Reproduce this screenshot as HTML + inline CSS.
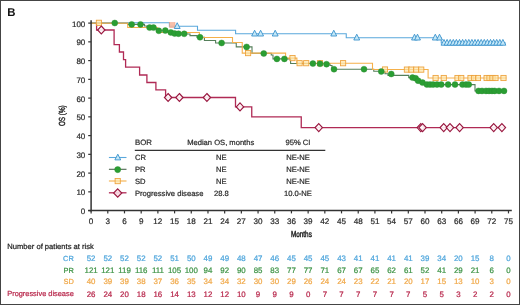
<!DOCTYPE html><html><head><meta charset="utf-8"><style>html,body{margin:0;padding:0;background:#fff;}svg{display:block;will-change:transform;font-family:"Liberation Sans",sans-serif;}</style></head><body>
<svg width="520" height="305" viewBox="0 0 520 305"  text-rendering="geometricPrecision">
<rect x="0" y="0" width="520" height="305" fill="#fff"/>
<text x="7.2" y="16.2" font-size="11.4" font-weight="bold" fill="#111">B</text>
<path d="M91.10,23.10 L96.60,23.10 L96.60,30.00 L114.10,30.00 L114.10,44.60 L119.40,44.60 L119.40,52.00 L123.50,52.00 L123.50,59.60 L125.60,59.60 L125.60,67.10 L139.60,67.10 L139.60,75.00 L146.90,75.00 L146.90,82.50 L155.90,82.50 L155.90,89.90 L165.60,89.90 L165.60,97.50 L235.50,97.50 L235.50,106.90 L251.75,106.90 L251.75,116.90 L301.25,116.90 L301.25,127.60 L505.00,127.60" fill="none" stroke="#b02a55" stroke-width="1.3" stroke-linejoin="miter"/>
<path d="M91.10,23.10 L127.70,23.10 L127.70,24.40 L144.50,24.40 L144.50,26.00 L147.00,26.00 L147.00,27.60 L156.50,27.60 L156.50,29.20 L157.50,29.20 L157.50,30.80 L168.00,30.80 L168.00,32.40 L172.00,32.40 L172.00,34.00 L190.00,34.00 L190.00,35.60 L197.00,35.60 L197.00,37.20 L204.40,37.20 L204.40,40.50 L215.60,40.50 L215.60,43.00 L236.25,43.00 L236.25,46.90 L252.00,46.90 L252.00,53.30 L271.25,53.30 L271.25,55.00 L273.00,55.00 L273.00,58.90 L290.60,58.90 L290.60,63.50 L330.00,63.50 L330.00,65.50 L332.00,65.50 L332.00,69.20 L373.75,69.20 L373.75,71.30 L385.00,71.30 L385.00,73.80 L388.00,73.80 L388.00,75.40 L408.75,75.40 L408.75,77.60 L415.00,77.60 L415.00,80.50 L419.00,80.50 L419.00,82.60 L424.00,82.60 L424.00,84.60 L475.00,84.60 L475.00,90.90 L506.00,90.90" fill="none" stroke="#557f5a" stroke-width="1.1" stroke-linejoin="miter"/>
<path d="M91.10,22.70 L169.40,22.70 L169.40,26.30 L197.50,26.30 L197.50,30.20 L235.60,30.20 L235.60,33.80 L346.25,33.80 L346.25,37.80 L441.25,37.80 L441.25,43.00 L506.00,43.00" fill="none" stroke="#5aa8dc" stroke-width="1.1" stroke-linejoin="miter"/>
<path d="M91.10,23.10 L127.70,23.10 L127.70,27.50 L157.30,27.50 L157.30,32.50 L199.40,32.50 L199.40,37.50 L232.50,37.50 L232.50,42.50 L242.25,42.50 L242.25,53.10 L285.60,53.10 L285.60,58.10 L296.90,58.10 L296.90,63.20 L372.50,63.20 L372.50,69.50 L428.10,69.50 L428.10,78.00 L506.30,78.00" fill="none" stroke="#f5b04a" stroke-width="1.1" stroke-linejoin="miter"/>
<rect x="169.6" y="22.6" width="5.4" height="5.0" fill="#f6b49a" fill-opacity="0.85" stroke="#f0a080" stroke-width="0.5"/>
<rect x="96.30" y="20.20" width="5.2" height="5.2" fill="#fde6a8" fill-opacity="0.7" stroke="#eda03a" stroke-width="0.85"/>
<rect x="245.50" y="50.50" width="5.2" height="5.2" fill="#fde6a8" fill-opacity="0.7" stroke="#eda03a" stroke-width="0.85"/>
<rect x="289.90" y="55.50" width="5.2" height="5.2" fill="#fde6a8" fill-opacity="0.7" stroke="#eda03a" stroke-width="0.85"/>
<rect x="297.00" y="60.60" width="5.2" height="5.2" fill="#fde6a8" fill-opacity="0.7" stroke="#eda03a" stroke-width="0.85"/>
<rect x="303.60" y="60.60" width="5.2" height="5.2" fill="#fde6a8" fill-opacity="0.7" stroke="#eda03a" stroke-width="0.85"/>
<rect x="317.40" y="60.60" width="5.2" height="5.2" fill="#fde6a8" fill-opacity="0.7" stroke="#eda03a" stroke-width="0.85"/>
<rect x="340.50" y="60.60" width="5.2" height="5.2" fill="#fde6a8" fill-opacity="0.7" stroke="#eda03a" stroke-width="0.85"/>
<rect x="382.40" y="66.90" width="5.2" height="5.2" fill="#fde6a8" fill-opacity="0.7" stroke="#eda03a" stroke-width="0.85"/>
<rect x="404.30" y="67.00" width="5.2" height="5.2" fill="#fde6a8" fill-opacity="0.7" stroke="#eda03a" stroke-width="0.85"/>
<rect x="408.65" y="67.00" width="5.2" height="5.2" fill="#fde6a8" fill-opacity="0.7" stroke="#eda03a" stroke-width="0.85"/>
<rect x="413.65" y="67.00" width="5.2" height="5.2" fill="#fde6a8" fill-opacity="0.7" stroke="#eda03a" stroke-width="0.85"/>
<rect x="418.65" y="67.00" width="5.2" height="5.2" fill="#fde6a8" fill-opacity="0.7" stroke="#eda03a" stroke-width="0.85"/>
<rect x="433.00" y="75.40" width="5.2" height="5.2" fill="#fde6a8" fill-opacity="0.7" stroke="#eda03a" stroke-width="0.85"/>
<rect x="441.15" y="75.40" width="5.2" height="5.2" fill="#fde6a8" fill-opacity="0.7" stroke="#eda03a" stroke-width="0.85"/>
<rect x="454.90" y="75.40" width="5.2" height="5.2" fill="#fde6a8" fill-opacity="0.7" stroke="#eda03a" stroke-width="0.85"/>
<rect x="458.65" y="75.40" width="5.2" height="5.2" fill="#fde6a8" fill-opacity="0.7" stroke="#eda03a" stroke-width="0.85"/>
<rect x="467.90" y="75.40" width="5.2" height="5.2" fill="#fde6a8" fill-opacity="0.7" stroke="#eda03a" stroke-width="0.85"/>
<rect x="471.40" y="75.40" width="5.2" height="5.2" fill="#fde6a8" fill-opacity="0.7" stroke="#eda03a" stroke-width="0.85"/>
<rect x="475.40" y="75.40" width="5.2" height="5.2" fill="#fde6a8" fill-opacity="0.7" stroke="#eda03a" stroke-width="0.85"/>
<rect x="484.00" y="75.40" width="5.2" height="5.2" fill="#fde6a8" fill-opacity="0.7" stroke="#eda03a" stroke-width="0.85"/>
<rect x="486.90" y="75.40" width="5.2" height="5.2" fill="#fde6a8" fill-opacity="0.7" stroke="#eda03a" stroke-width="0.85"/>
<rect x="489.90" y="75.40" width="5.2" height="5.2" fill="#fde6a8" fill-opacity="0.7" stroke="#eda03a" stroke-width="0.85"/>
<rect x="492.90" y="75.40" width="5.2" height="5.2" fill="#fde6a8" fill-opacity="0.7" stroke="#eda03a" stroke-width="0.85"/>
<rect x="500.90" y="75.40" width="5.2" height="5.2" fill="#fde6a8" fill-opacity="0.7" stroke="#eda03a" stroke-width="0.85"/>
<path d="M177.20,22.72 L180.15,28.50 L174.25,28.50 Z" fill="#c4e8f8" stroke="#3a92cc" stroke-width="0.9"/>
<path d="M254.60,30.22 L257.55,36.00 L251.65,36.00 Z" fill="#c4e8f8" stroke="#3a92cc" stroke-width="0.9"/>
<path d="M260.60,30.22 L263.55,36.00 L257.65,36.00 Z" fill="#c4e8f8" stroke="#3a92cc" stroke-width="0.9"/>
<path d="M275.20,30.22 L278.15,36.00 L272.25,36.00 Z" fill="#c4e8f8" stroke="#3a92cc" stroke-width="0.9"/>
<path d="M333.75,30.22 L336.70,36.00 L330.80,36.00 Z" fill="#c4e8f8" stroke="#3a92cc" stroke-width="0.9"/>
<path d="M356.75,34.22 L359.70,40.00 L353.80,40.00 Z" fill="#c4e8f8" stroke="#3a92cc" stroke-width="0.9"/>
<path d="M414.50,34.22 L417.45,40.00 L411.55,40.00 Z" fill="#c4e8f8" stroke="#3a92cc" stroke-width="0.9"/>
<path d="M417.50,34.22 L420.45,40.00 L414.55,40.00 Z" fill="#c4e8f8" stroke="#3a92cc" stroke-width="0.9"/>
<path d="M435.30,34.22 L438.25,40.00 L432.35,40.00 Z" fill="#c4e8f8" stroke="#3a92cc" stroke-width="0.9"/>
<path d="M439.50,34.22 L442.45,40.00 L436.55,40.00 Z" fill="#c4e8f8" stroke="#3a92cc" stroke-width="0.9"/>
<path d="M444.00,39.42 L446.95,45.20 L441.05,45.20 Z" fill="#c4e8f8" stroke="#3a92cc" stroke-width="0.9"/>
<path d="M447.10,39.42 L450.05,45.20 L444.15,45.20 Z" fill="#c4e8f8" stroke="#3a92cc" stroke-width="0.9"/>
<path d="M450.20,39.42 L453.15,45.20 L447.25,45.20 Z" fill="#c4e8f8" stroke="#3a92cc" stroke-width="0.9"/>
<path d="M453.30,39.42 L456.25,45.20 L450.35,45.20 Z" fill="#c4e8f8" stroke="#3a92cc" stroke-width="0.9"/>
<path d="M456.40,39.42 L459.35,45.20 L453.45,45.20 Z" fill="#c4e8f8" stroke="#3a92cc" stroke-width="0.9"/>
<path d="M459.50,39.42 L462.45,45.20 L456.55,45.20 Z" fill="#c4e8f8" stroke="#3a92cc" stroke-width="0.9"/>
<path d="M462.60,39.42 L465.55,45.20 L459.65,45.20 Z" fill="#c4e8f8" stroke="#3a92cc" stroke-width="0.9"/>
<path d="M465.70,39.42 L468.65,45.20 L462.75,45.20 Z" fill="#c4e8f8" stroke="#3a92cc" stroke-width="0.9"/>
<path d="M468.80,39.42 L471.75,45.20 L465.85,45.20 Z" fill="#c4e8f8" stroke="#3a92cc" stroke-width="0.9"/>
<path d="M471.90,39.42 L474.85,45.20 L468.95,45.20 Z" fill="#c4e8f8" stroke="#3a92cc" stroke-width="0.9"/>
<path d="M475.00,39.42 L477.95,45.20 L472.05,45.20 Z" fill="#c4e8f8" stroke="#3a92cc" stroke-width="0.9"/>
<path d="M478.10,39.42 L481.05,45.20 L475.15,45.20 Z" fill="#c4e8f8" stroke="#3a92cc" stroke-width="0.9"/>
<path d="M481.20,39.42 L484.15,45.20 L478.25,45.20 Z" fill="#c4e8f8" stroke="#3a92cc" stroke-width="0.9"/>
<path d="M484.30,39.42 L487.25,45.20 L481.35,45.20 Z" fill="#c4e8f8" stroke="#3a92cc" stroke-width="0.9"/>
<path d="M487.40,39.42 L490.35,45.20 L484.45,45.20 Z" fill="#c4e8f8" stroke="#3a92cc" stroke-width="0.9"/>
<path d="M490.50,39.42 L493.45,45.20 L487.55,45.20 Z" fill="#c4e8f8" stroke="#3a92cc" stroke-width="0.9"/>
<path d="M493.60,39.42 L496.55,45.20 L490.65,45.20 Z" fill="#c4e8f8" stroke="#3a92cc" stroke-width="0.9"/>
<path d="M496.70,39.42 L499.65,45.20 L493.75,45.20 Z" fill="#c4e8f8" stroke="#3a92cc" stroke-width="0.9"/>
<path d="M499.80,39.42 L502.75,45.20 L496.85,45.20 Z" fill="#c4e8f8" stroke="#3a92cc" stroke-width="0.9"/>
<path d="M502.90,39.42 L505.85,45.20 L499.95,45.20 Z" fill="#c4e8f8" stroke="#3a92cc" stroke-width="0.9"/>
<circle cx="114.75" cy="23.00" r="3.0" fill="#2a9e33" stroke="#2a8a30" stroke-width="0.4"/>
<circle cx="131.70" cy="24.40" r="3.0" fill="#2a9e33" stroke="#2a8a30" stroke-width="0.4"/>
<circle cx="140.50" cy="24.40" r="3.0" fill="#2a9e33" stroke="#2a8a30" stroke-width="0.4"/>
<circle cx="149.60" cy="27.60" r="3.0" fill="#2a9e33" stroke="#2a8a30" stroke-width="0.4"/>
<circle cx="153.50" cy="27.60" r="3.0" fill="#2a9e33" stroke="#2a8a30" stroke-width="0.4"/>
<circle cx="158.80" cy="30.80" r="3.0" fill="#2a9e33" stroke="#2a8a30" stroke-width="0.4"/>
<circle cx="165.30" cy="30.60" r="3.0" fill="#2a9e33" stroke="#2a8a30" stroke-width="0.4"/>
<circle cx="170.80" cy="32.40" r="3.0" fill="#2a9e33" stroke="#2a8a30" stroke-width="0.4"/>
<circle cx="174.60" cy="33.50" r="3.0" fill="#2a9e33" stroke="#2a8a30" stroke-width="0.4"/>
<circle cx="178.50" cy="33.70" r="3.0" fill="#2a9e33" stroke="#2a8a30" stroke-width="0.4"/>
<circle cx="184.20" cy="33.80" r="3.0" fill="#2a9e33" stroke="#2a8a30" stroke-width="0.4"/>
<circle cx="200.00" cy="37.30" r="3.0" fill="#2a9e33" stroke="#2a8a30" stroke-width="0.4"/>
<circle cx="221.60" cy="43.00" r="3.0" fill="#2a9e33" stroke="#2a8a30" stroke-width="0.4"/>
<circle cx="246.60" cy="46.90" r="3.0" fill="#2a9e33" stroke="#2a8a30" stroke-width="0.4"/>
<circle cx="263.75" cy="53.50" r="3.0" fill="#2a9e33" stroke="#2a8a30" stroke-width="0.4"/>
<circle cx="276.90" cy="58.90" r="3.0" fill="#2a9e33" stroke="#2a8a30" stroke-width="0.4"/>
<circle cx="284.40" cy="58.90" r="3.0" fill="#2a9e33" stroke="#2a8a30" stroke-width="0.4"/>
<circle cx="312.90" cy="63.60" r="3.0" fill="#2a9e33" stroke="#2a8a30" stroke-width="0.4"/>
<circle cx="320.00" cy="63.80" r="3.0" fill="#2a9e33" stroke="#2a8a30" stroke-width="0.4"/>
<circle cx="326.50" cy="64.20" r="3.0" fill="#2a9e33" stroke="#2a8a30" stroke-width="0.4"/>
<circle cx="334.00" cy="69.20" r="3.0" fill="#2a9e33" stroke="#2a8a30" stroke-width="0.4"/>
<circle cx="364.00" cy="69.20" r="3.0" fill="#2a9e33" stroke="#2a8a30" stroke-width="0.4"/>
<circle cx="381.25" cy="71.50" r="3.0" fill="#2a9e33" stroke="#2a8a30" stroke-width="0.4"/>
<circle cx="391.25" cy="74.00" r="3.0" fill="#2a9e33" stroke="#2a8a30" stroke-width="0.4"/>
<circle cx="412.50" cy="77.60" r="3.0" fill="#2a9e33" stroke="#2a8a30" stroke-width="0.4"/>
<circle cx="415.60" cy="78.30" r="3.0" fill="#2a9e33" stroke="#2a8a30" stroke-width="0.4"/>
<circle cx="418.10" cy="80.70" r="3.0" fill="#2a9e33" stroke="#2a8a30" stroke-width="0.4"/>
<circle cx="422.50" cy="82.60" r="3.0" fill="#2a9e33" stroke="#2a8a30" stroke-width="0.4"/>
<circle cx="426.90" cy="84.50" r="3.0" fill="#2a9e33" stroke="#2a8a30" stroke-width="0.4"/>
<circle cx="430.00" cy="84.60" r="3.0" fill="#2a9e33" stroke="#2a8a30" stroke-width="0.4"/>
<circle cx="433.10" cy="84.60" r="3.0" fill="#2a9e33" stroke="#2a8a30" stroke-width="0.4"/>
<circle cx="437.00" cy="84.60" r="3.0" fill="#2a9e33" stroke="#2a8a30" stroke-width="0.4"/>
<circle cx="441.25" cy="84.60" r="3.0" fill="#2a9e33" stroke="#2a8a30" stroke-width="0.4"/>
<circle cx="448.10" cy="84.60" r="3.0" fill="#2a9e33" stroke="#2a8a30" stroke-width="0.4"/>
<circle cx="455.00" cy="84.60" r="3.0" fill="#2a9e33" stroke="#2a8a30" stroke-width="0.4"/>
<circle cx="462.50" cy="84.60" r="3.0" fill="#2a9e33" stroke="#2a8a30" stroke-width="0.4"/>
<circle cx="466.00" cy="84.60" r="3.0" fill="#2a9e33" stroke="#2a8a30" stroke-width="0.4"/>
<circle cx="468.75" cy="84.60" r="3.0" fill="#2a9e33" stroke="#2a8a30" stroke-width="0.4"/>
<circle cx="478.50" cy="90.90" r="3.0" fill="#2a9e33" stroke="#2a8a30" stroke-width="0.4"/>
<circle cx="482.00" cy="90.90" r="3.0" fill="#2a9e33" stroke="#2a8a30" stroke-width="0.4"/>
<circle cx="486.00" cy="90.90" r="3.0" fill="#2a9e33" stroke="#2a8a30" stroke-width="0.4"/>
<circle cx="489.00" cy="90.90" r="3.0" fill="#2a9e33" stroke="#2a8a30" stroke-width="0.4"/>
<circle cx="492.00" cy="90.90" r="3.0" fill="#2a9e33" stroke="#2a8a30" stroke-width="0.4"/>
<circle cx="494.70" cy="90.90" r="3.0" fill="#2a9e33" stroke="#2a8a30" stroke-width="0.4"/>
<circle cx="499.00" cy="90.90" r="3.0" fill="#2a9e33" stroke="#2a8a30" stroke-width="0.4"/>
<circle cx="504.00" cy="90.90" r="3.0" fill="#2a9e33" stroke="#2a8a30" stroke-width="0.4"/>
<path d="M101.30,26.00 L105.00,30.00 L101.30,34.00 L97.60,30.00 Z" fill="#fff8fa" fill-opacity="0.9" stroke="#9a1840" stroke-width="1.15"/>
<path d="M168.10,93.50 L171.80,97.50 L168.10,101.50 L164.40,97.50 Z" fill="#fff8fa" fill-opacity="0.9" stroke="#9a1840" stroke-width="1.15"/>
<path d="M179.40,93.50 L183.10,97.50 L179.40,101.50 L175.70,97.50 Z" fill="#fff8fa" fill-opacity="0.9" stroke="#9a1840" stroke-width="1.15"/>
<path d="M206.90,93.50 L210.60,97.50 L206.90,101.50 L203.20,97.50 Z" fill="#fff8fa" fill-opacity="0.9" stroke="#9a1840" stroke-width="1.15"/>
<path d="M240.00,102.90 L243.70,106.90 L240.00,110.90 L236.30,106.90 Z" fill="#fff8fa" fill-opacity="0.9" stroke="#9a1840" stroke-width="1.15"/>
<path d="M318.75,123.60 L322.45,127.60 L318.75,131.60 L315.05,127.60 Z" fill="#fff8fa" fill-opacity="0.9" stroke="#9a1840" stroke-width="1.15"/>
<path d="M420.80,123.60 L424.50,127.60 L420.80,131.60 L417.10,127.60 Z" fill="#fff8fa" fill-opacity="0.9" stroke="#9a1840" stroke-width="1.15"/>
<path d="M422.60,123.60 L426.30,127.60 L422.60,131.60 L418.90,127.60 Z" fill="#fff8fa" fill-opacity="0.9" stroke="#9a1840" stroke-width="1.15"/>
<path d="M443.70,123.60 L447.40,127.60 L443.70,131.60 L440.00,127.60 Z" fill="#fff8fa" fill-opacity="0.9" stroke="#9a1840" stroke-width="1.15"/>
<path d="M450.00,123.60 L453.70,127.60 L450.00,131.60 L446.30,127.60 Z" fill="#fff8fa" fill-opacity="0.9" stroke="#9a1840" stroke-width="1.15"/>
<path d="M459.60,123.60 L463.30,127.60 L459.60,131.60 L455.90,127.60 Z" fill="#fff8fa" fill-opacity="0.9" stroke="#9a1840" stroke-width="1.15"/>
<path d="M493.70,123.60 L497.40,127.60 L493.70,131.60 L490.00,127.60 Z" fill="#fff8fa" fill-opacity="0.9" stroke="#9a1840" stroke-width="1.15"/>
<path d="M501.90,123.60 L505.60,127.60 L501.90,131.60 L498.20,127.60 Z" fill="#fff8fa" fill-opacity="0.9" stroke="#9a1840" stroke-width="1.15"/>
<line x1="91.1" y1="20.2" x2="91.1" y2="211.4" stroke="#333" stroke-width="1.5"/>
<line x1="88.2" y1="210.6" x2="511.8" y2="210.6" stroke="#333" stroke-width="1.5"/>
<line x1="88.2" y1="210.60" x2="91.1" y2="210.60" stroke="#333" stroke-width="1.2"/>
<text x="85.30" y="214.10" font-size="8.0" text-anchor="end" fill="#2b2b2b" stroke="#2b2b2b" stroke-width="0.22" >0</text>
<line x1="88.2" y1="191.85" x2="91.1" y2="191.85" stroke="#333" stroke-width="1.2"/>
<text x="85.30" y="195.35" font-size="8.0" text-anchor="end" fill="#2b2b2b" stroke="#2b2b2b" stroke-width="0.22" >10</text>
<line x1="88.2" y1="173.10" x2="91.1" y2="173.10" stroke="#333" stroke-width="1.2"/>
<text x="85.30" y="176.60" font-size="8.0" text-anchor="end" fill="#2b2b2b" stroke="#2b2b2b" stroke-width="0.22" >20</text>
<line x1="88.2" y1="154.35" x2="91.1" y2="154.35" stroke="#333" stroke-width="1.2"/>
<text x="85.30" y="157.85" font-size="8.0" text-anchor="end" fill="#2b2b2b" stroke="#2b2b2b" stroke-width="0.22" >30</text>
<line x1="88.2" y1="135.60" x2="91.1" y2="135.60" stroke="#333" stroke-width="1.2"/>
<text x="85.30" y="139.10" font-size="8.0" text-anchor="end" fill="#2b2b2b" stroke="#2b2b2b" stroke-width="0.22" >40</text>
<line x1="88.2" y1="116.85" x2="91.1" y2="116.85" stroke="#333" stroke-width="1.2"/>
<text x="85.30" y="120.35" font-size="8.0" text-anchor="end" fill="#2b2b2b" stroke="#2b2b2b" stroke-width="0.22" >50</text>
<line x1="88.2" y1="98.10" x2="91.1" y2="98.10" stroke="#333" stroke-width="1.2"/>
<text x="85.30" y="101.60" font-size="8.0" text-anchor="end" fill="#2b2b2b" stroke="#2b2b2b" stroke-width="0.22" >60</text>
<line x1="88.2" y1="79.35" x2="91.1" y2="79.35" stroke="#333" stroke-width="1.2"/>
<text x="85.30" y="82.85" font-size="8.0" text-anchor="end" fill="#2b2b2b" stroke="#2b2b2b" stroke-width="0.22" >70</text>
<line x1="88.2" y1="60.60" x2="91.1" y2="60.60" stroke="#333" stroke-width="1.2"/>
<text x="85.30" y="64.10" font-size="8.0" text-anchor="end" fill="#2b2b2b" stroke="#2b2b2b" stroke-width="0.22" >80</text>
<line x1="88.2" y1="41.85" x2="91.1" y2="41.85" stroke="#333" stroke-width="1.2"/>
<text x="85.30" y="45.35" font-size="8.0" text-anchor="end" fill="#2b2b2b" stroke="#2b2b2b" stroke-width="0.22" >90</text>
<line x1="88.2" y1="23.10" x2="91.1" y2="23.10" stroke="#333" stroke-width="1.2"/>
<text x="85.30" y="26.60" font-size="8.0" text-anchor="end" fill="#2b2b2b" stroke="#2b2b2b" stroke-width="0.22" >100</text>
<line x1="91.10" y1="210.6" x2="91.10" y2="213.4" stroke="#333" stroke-width="1.2"/>
<text x="91.10" y="224.00" font-size="8.1" text-anchor="middle" fill="#2b2b2b" stroke="#2b2b2b" stroke-width="0.22" >0</text>
<line x1="107.79" y1="210.6" x2="107.79" y2="213.4" stroke="#333" stroke-width="1.2"/>
<text x="107.79" y="224.00" font-size="8.1" text-anchor="middle" fill="#2b2b2b" stroke="#2b2b2b" stroke-width="0.22" >3</text>
<line x1="124.49" y1="210.6" x2="124.49" y2="213.4" stroke="#333" stroke-width="1.2"/>
<text x="124.49" y="224.00" font-size="8.1" text-anchor="middle" fill="#2b2b2b" stroke="#2b2b2b" stroke-width="0.22" >6</text>
<line x1="141.19" y1="210.6" x2="141.19" y2="213.4" stroke="#333" stroke-width="1.2"/>
<text x="141.19" y="224.00" font-size="8.1" text-anchor="middle" fill="#2b2b2b" stroke="#2b2b2b" stroke-width="0.22" >9</text>
<line x1="157.88" y1="210.6" x2="157.88" y2="213.4" stroke="#333" stroke-width="1.2"/>
<text x="157.88" y="224.00" font-size="8.1" text-anchor="middle" fill="#2b2b2b" stroke="#2b2b2b" stroke-width="0.22" >12</text>
<line x1="174.57" y1="210.6" x2="174.57" y2="213.4" stroke="#333" stroke-width="1.2"/>
<text x="174.57" y="224.00" font-size="8.1" text-anchor="middle" fill="#2b2b2b" stroke="#2b2b2b" stroke-width="0.22" >15</text>
<line x1="191.27" y1="210.6" x2="191.27" y2="213.4" stroke="#333" stroke-width="1.2"/>
<text x="191.27" y="224.00" font-size="8.1" text-anchor="middle" fill="#2b2b2b" stroke="#2b2b2b" stroke-width="0.22" >18</text>
<line x1="207.97" y1="210.6" x2="207.97" y2="213.4" stroke="#333" stroke-width="1.2"/>
<text x="207.97" y="224.00" font-size="8.1" text-anchor="middle" fill="#2b2b2b" stroke="#2b2b2b" stroke-width="0.22" >21</text>
<line x1="224.66" y1="210.6" x2="224.66" y2="213.4" stroke="#333" stroke-width="1.2"/>
<text x="224.66" y="224.00" font-size="8.1" text-anchor="middle" fill="#2b2b2b" stroke="#2b2b2b" stroke-width="0.22" >24</text>
<line x1="241.36" y1="210.6" x2="241.36" y2="213.4" stroke="#333" stroke-width="1.2"/>
<text x="241.36" y="224.00" font-size="8.1" text-anchor="middle" fill="#2b2b2b" stroke="#2b2b2b" stroke-width="0.22" >27</text>
<line x1="258.05" y1="210.6" x2="258.05" y2="213.4" stroke="#333" stroke-width="1.2"/>
<text x="258.05" y="224.00" font-size="8.1" text-anchor="middle" fill="#2b2b2b" stroke="#2b2b2b" stroke-width="0.22" >30</text>
<line x1="274.75" y1="210.6" x2="274.75" y2="213.4" stroke="#333" stroke-width="1.2"/>
<text x="274.75" y="224.00" font-size="8.1" text-anchor="middle" fill="#2b2b2b" stroke="#2b2b2b" stroke-width="0.22" >33</text>
<line x1="291.44" y1="210.6" x2="291.44" y2="213.4" stroke="#333" stroke-width="1.2"/>
<text x="291.44" y="224.00" font-size="8.1" text-anchor="middle" fill="#2b2b2b" stroke="#2b2b2b" stroke-width="0.22" >36</text>
<line x1="308.13" y1="210.6" x2="308.13" y2="213.4" stroke="#333" stroke-width="1.2"/>
<text x="308.13" y="224.00" font-size="8.1" text-anchor="middle" fill="#2b2b2b" stroke="#2b2b2b" stroke-width="0.22" >39</text>
<line x1="324.83" y1="210.6" x2="324.83" y2="213.4" stroke="#333" stroke-width="1.2"/>
<text x="324.83" y="224.00" font-size="8.1" text-anchor="middle" fill="#2b2b2b" stroke="#2b2b2b" stroke-width="0.22" >42</text>
<line x1="341.52" y1="210.6" x2="341.52" y2="213.4" stroke="#333" stroke-width="1.2"/>
<text x="341.52" y="224.00" font-size="8.1" text-anchor="middle" fill="#2b2b2b" stroke="#2b2b2b" stroke-width="0.22" >45</text>
<line x1="358.22" y1="210.6" x2="358.22" y2="213.4" stroke="#333" stroke-width="1.2"/>
<text x="358.22" y="224.00" font-size="8.1" text-anchor="middle" fill="#2b2b2b" stroke="#2b2b2b" stroke-width="0.22" >48</text>
<line x1="374.91" y1="210.6" x2="374.91" y2="213.4" stroke="#333" stroke-width="1.2"/>
<text x="374.91" y="224.00" font-size="8.1" text-anchor="middle" fill="#2b2b2b" stroke="#2b2b2b" stroke-width="0.22" >51</text>
<line x1="391.61" y1="210.6" x2="391.61" y2="213.4" stroke="#333" stroke-width="1.2"/>
<text x="391.61" y="224.00" font-size="8.1" text-anchor="middle" fill="#2b2b2b" stroke="#2b2b2b" stroke-width="0.22" >54</text>
<line x1="408.31" y1="210.6" x2="408.31" y2="213.4" stroke="#333" stroke-width="1.2"/>
<text x="408.31" y="224.00" font-size="8.1" text-anchor="middle" fill="#2b2b2b" stroke="#2b2b2b" stroke-width="0.22" >57</text>
<line x1="425.00" y1="210.6" x2="425.00" y2="213.4" stroke="#333" stroke-width="1.2"/>
<text x="425.00" y="224.00" font-size="8.1" text-anchor="middle" fill="#2b2b2b" stroke="#2b2b2b" stroke-width="0.22" >60</text>
<line x1="441.70" y1="210.6" x2="441.70" y2="213.4" stroke="#333" stroke-width="1.2"/>
<text x="441.70" y="224.00" font-size="8.1" text-anchor="middle" fill="#2b2b2b" stroke="#2b2b2b" stroke-width="0.22" >63</text>
<line x1="458.39" y1="210.6" x2="458.39" y2="213.4" stroke="#333" stroke-width="1.2"/>
<text x="458.39" y="224.00" font-size="8.1" text-anchor="middle" fill="#2b2b2b" stroke="#2b2b2b" stroke-width="0.22" >66</text>
<line x1="475.09" y1="210.6" x2="475.09" y2="213.4" stroke="#333" stroke-width="1.2"/>
<text x="475.09" y="224.00" font-size="8.1" text-anchor="middle" fill="#2b2b2b" stroke="#2b2b2b" stroke-width="0.22" >69</text>
<line x1="491.78" y1="210.6" x2="491.78" y2="213.4" stroke="#333" stroke-width="1.2"/>
<text x="491.78" y="224.00" font-size="8.1" text-anchor="middle" fill="#2b2b2b" stroke="#2b2b2b" stroke-width="0.22" >72</text>
<line x1="508.48" y1="210.6" x2="508.48" y2="213.4" stroke="#333" stroke-width="1.2"/>
<text x="508.48" y="224.00" font-size="8.1" text-anchor="middle" fill="#2b2b2b" stroke="#2b2b2b" stroke-width="0.22" >75</text>
<text x="0" y="0" font-size="8.6" text-anchor="middle" fill="#222" stroke="#222" stroke-width="0.45" transform="translate(301.4,236.6) scale(0.74,1)">Months</text>
<text x="0" y="0" font-size="8.8" text-anchor="middle" fill="#222" stroke="#222" stroke-width="0.4" transform="translate(65.4,115.7) rotate(-90) scale(0.72,1)">OS (%)</text>
<text x="135.00" y="145.30" font-size="7.8" text-anchor="start" fill="#2b2b2b" stroke="#2b2b2b" stroke-width="0.22" >BOR</text>
<text x="220.70" y="145.30" font-size="7.6" text-anchor="middle" fill="#2b2b2b" stroke="#2b2b2b" stroke-width="0.22" >Median OS, months</text>
<text x="298.00" y="145.30" font-size="7.6" text-anchor="middle" fill="#2b2b2b" stroke="#2b2b2b" stroke-width="0.22" >95% CI</text>
<line x1="134.8" y1="150.4" x2="325.3" y2="150.4" stroke="#333" stroke-width="1.1"/>
<text x="135.00" y="160.25" font-size="7.6" text-anchor="start" fill="#2b2b2b" stroke="#2b2b2b" stroke-width="0.22" >CR</text>
<text x="221.40" y="160.25" font-size="7.6" text-anchor="middle" fill="#2b2b2b" stroke="#2b2b2b" stroke-width="0.22" >NE</text>
<text x="298.00" y="160.25" font-size="7.6" text-anchor="middle" fill="#2b2b2b" stroke="#2b2b2b" stroke-width="0.22" >NE-NE</text>
<text x="135.00" y="172.05" font-size="7.6" text-anchor="start" fill="#2b2b2b" stroke="#2b2b2b" stroke-width="0.22" >PR</text>
<text x="221.40" y="172.05" font-size="7.6" text-anchor="middle" fill="#2b2b2b" stroke="#2b2b2b" stroke-width="0.22" >NE</text>
<text x="298.00" y="172.05" font-size="7.6" text-anchor="middle" fill="#2b2b2b" stroke="#2b2b2b" stroke-width="0.22" >NE-NE</text>
<text x="135.00" y="183.75" font-size="7.6" text-anchor="start" fill="#2b2b2b" stroke="#2b2b2b" stroke-width="0.22" >SD</text>
<text x="221.40" y="183.75" font-size="7.6" text-anchor="middle" fill="#2b2b2b" stroke="#2b2b2b" stroke-width="0.22" >NE</text>
<text x="298.00" y="183.75" font-size="7.6" text-anchor="middle" fill="#2b2b2b" stroke="#2b2b2b" stroke-width="0.22" >NE-NE</text>
<text x="135.00" y="195.55" font-size="7.6" text-anchor="start" fill="#2b2b2b" stroke="#2b2b2b" stroke-width="0.22" >Progressive disease</text>
<text x="221.40" y="195.55" font-size="7.6" text-anchor="middle" fill="#2b2b2b" stroke="#2b2b2b" stroke-width="0.22" >28.8</text>
<text x="298.00" y="195.55" font-size="7.6" text-anchor="middle" fill="#2b2b2b" stroke="#2b2b2b" stroke-width="0.22" >10.0-NE</text>
<line x1="108.9" y1="157.50" x2="126.5" y2="157.50" stroke="#5aa8dc" stroke-width="1.1"/>
<path d="M117.80,154.18 L120.70,159.86 L114.90,159.86 Z" fill="#c4e8f8" stroke="#3a92cc" stroke-width="0.9"/>
<line x1="108.9" y1="169.30" x2="126.5" y2="169.30" stroke="#4d6650" stroke-width="1.1"/>
<circle cx="117.70" cy="169.60" r="3.1" fill="#2a9e33" stroke="#2a8a30" stroke-width="0.4"/>
<line x1="108.9" y1="181.00" x2="126.5" y2="181.00" stroke="#f5b04a" stroke-width="1.1"/>
<rect x="115.10" y="178.50" width="5.2" height="5.2" fill="#fde6a8" fill-opacity="0.7" stroke="#eda03a" stroke-width="0.85"/>
<line x1="108.9" y1="192.80" x2="126.5" y2="192.80" stroke="#b02a55" stroke-width="1.3"/>
<path d="M117.70,188.90 L121.80,193.00 L117.70,197.10 L113.60,193.00 Z" fill="#f9dde6" fill-opacity="0.9" stroke="#9a1840" stroke-width="1.15"/>
<text x="7.30" y="248.80" font-size="7.6" text-anchor="start" fill="#222" stroke="#222" stroke-width="0.22" >Number of patients at risk</text>
<text x="73.80" y="260.50" font-size="7.4" text-anchor="end" fill="#4fa6dc" stroke="#4fa6dc" stroke-width="0.22" >CR</text>
<text x="91.10" y="260.60" font-size="7.9" text-anchor="middle" fill="#4fa6dc" stroke="#4fa6dc" stroke-width="0.22" >52</text>
<text x="107.79" y="260.60" font-size="7.9" text-anchor="middle" fill="#4fa6dc" stroke="#4fa6dc" stroke-width="0.22" >52</text>
<text x="124.49" y="260.60" font-size="7.9" text-anchor="middle" fill="#4fa6dc" stroke="#4fa6dc" stroke-width="0.22" >52</text>
<text x="141.19" y="260.60" font-size="7.9" text-anchor="middle" fill="#4fa6dc" stroke="#4fa6dc" stroke-width="0.22" >52</text>
<text x="157.88" y="260.60" font-size="7.9" text-anchor="middle" fill="#4fa6dc" stroke="#4fa6dc" stroke-width="0.22" >52</text>
<text x="174.57" y="260.60" font-size="7.9" text-anchor="middle" fill="#4fa6dc" stroke="#4fa6dc" stroke-width="0.22" >51</text>
<text x="191.27" y="260.60" font-size="7.9" text-anchor="middle" fill="#4fa6dc" stroke="#4fa6dc" stroke-width="0.22" >50</text>
<text x="207.97" y="260.60" font-size="7.9" text-anchor="middle" fill="#4fa6dc" stroke="#4fa6dc" stroke-width="0.22" >49</text>
<text x="224.66" y="260.60" font-size="7.9" text-anchor="middle" fill="#4fa6dc" stroke="#4fa6dc" stroke-width="0.22" >49</text>
<text x="241.36" y="260.60" font-size="7.9" text-anchor="middle" fill="#4fa6dc" stroke="#4fa6dc" stroke-width="0.22" >48</text>
<text x="258.05" y="260.60" font-size="7.9" text-anchor="middle" fill="#4fa6dc" stroke="#4fa6dc" stroke-width="0.22" >47</text>
<text x="274.75" y="260.60" font-size="7.9" text-anchor="middle" fill="#4fa6dc" stroke="#4fa6dc" stroke-width="0.22" >46</text>
<text x="291.44" y="260.60" font-size="7.9" text-anchor="middle" fill="#4fa6dc" stroke="#4fa6dc" stroke-width="0.22" >45</text>
<text x="308.13" y="260.60" font-size="7.9" text-anchor="middle" fill="#4fa6dc" stroke="#4fa6dc" stroke-width="0.22" >45</text>
<text x="324.83" y="260.60" font-size="7.9" text-anchor="middle" fill="#4fa6dc" stroke="#4fa6dc" stroke-width="0.22" >45</text>
<text x="341.52" y="260.60" font-size="7.9" text-anchor="middle" fill="#4fa6dc" stroke="#4fa6dc" stroke-width="0.22" >43</text>
<text x="358.22" y="260.60" font-size="7.9" text-anchor="middle" fill="#4fa6dc" stroke="#4fa6dc" stroke-width="0.22" >41</text>
<text x="374.91" y="260.60" font-size="7.9" text-anchor="middle" fill="#4fa6dc" stroke="#4fa6dc" stroke-width="0.22" >41</text>
<text x="391.61" y="260.60" font-size="7.9" text-anchor="middle" fill="#4fa6dc" stroke="#4fa6dc" stroke-width="0.22" >41</text>
<text x="408.31" y="260.60" font-size="7.9" text-anchor="middle" fill="#4fa6dc" stroke="#4fa6dc" stroke-width="0.22" >41</text>
<text x="425.00" y="260.60" font-size="7.9" text-anchor="middle" fill="#4fa6dc" stroke="#4fa6dc" stroke-width="0.22" >39</text>
<text x="441.70" y="260.60" font-size="7.9" text-anchor="middle" fill="#4fa6dc" stroke="#4fa6dc" stroke-width="0.22" >34</text>
<text x="458.39" y="260.60" font-size="7.9" text-anchor="middle" fill="#4fa6dc" stroke="#4fa6dc" stroke-width="0.22" >20</text>
<text x="475.09" y="260.60" font-size="7.9" text-anchor="middle" fill="#4fa6dc" stroke="#4fa6dc" stroke-width="0.22" >15</text>
<text x="491.78" y="260.60" font-size="7.9" text-anchor="middle" fill="#4fa6dc" stroke="#4fa6dc" stroke-width="0.22" >8</text>
<text x="508.48" y="260.60" font-size="7.9" text-anchor="middle" fill="#4fa6dc" stroke="#4fa6dc" stroke-width="0.22" >0</text>
<text x="73.80" y="272.70" font-size="7.4" text-anchor="end" fill="#3f9447" stroke="#3f9447" stroke-width="0.22" >PR</text>
<text x="91.10" y="272.80" font-size="7.9" text-anchor="middle" fill="#3f9447" stroke="#3f9447" stroke-width="0.22" >121</text>
<text x="107.79" y="272.80" font-size="7.9" text-anchor="middle" fill="#3f9447" stroke="#3f9447" stroke-width="0.22" >121</text>
<text x="124.49" y="272.80" font-size="7.9" text-anchor="middle" fill="#3f9447" stroke="#3f9447" stroke-width="0.22" >119</text>
<text x="141.19" y="272.80" font-size="7.9" text-anchor="middle" fill="#3f9447" stroke="#3f9447" stroke-width="0.22" >116</text>
<text x="157.88" y="272.80" font-size="7.9" text-anchor="middle" fill="#3f9447" stroke="#3f9447" stroke-width="0.22" >111</text>
<text x="174.57" y="272.80" font-size="7.9" text-anchor="middle" fill="#3f9447" stroke="#3f9447" stroke-width="0.22" >105</text>
<text x="191.27" y="272.80" font-size="7.9" text-anchor="middle" fill="#3f9447" stroke="#3f9447" stroke-width="0.22" >100</text>
<text x="207.97" y="272.80" font-size="7.9" text-anchor="middle" fill="#3f9447" stroke="#3f9447" stroke-width="0.22" >94</text>
<text x="224.66" y="272.80" font-size="7.9" text-anchor="middle" fill="#3f9447" stroke="#3f9447" stroke-width="0.22" >92</text>
<text x="241.36" y="272.80" font-size="7.9" text-anchor="middle" fill="#3f9447" stroke="#3f9447" stroke-width="0.22" >90</text>
<text x="258.05" y="272.80" font-size="7.9" text-anchor="middle" fill="#3f9447" stroke="#3f9447" stroke-width="0.22" >85</text>
<text x="274.75" y="272.80" font-size="7.9" text-anchor="middle" fill="#3f9447" stroke="#3f9447" stroke-width="0.22" >83</text>
<text x="291.44" y="272.80" font-size="7.9" text-anchor="middle" fill="#3f9447" stroke="#3f9447" stroke-width="0.22" >77</text>
<text x="308.13" y="272.80" font-size="7.9" text-anchor="middle" fill="#3f9447" stroke="#3f9447" stroke-width="0.22" >77</text>
<text x="324.83" y="272.80" font-size="7.9" text-anchor="middle" fill="#3f9447" stroke="#3f9447" stroke-width="0.22" >71</text>
<text x="341.52" y="272.80" font-size="7.9" text-anchor="middle" fill="#3f9447" stroke="#3f9447" stroke-width="0.22" >67</text>
<text x="358.22" y="272.80" font-size="7.9" text-anchor="middle" fill="#3f9447" stroke="#3f9447" stroke-width="0.22" >67</text>
<text x="374.91" y="272.80" font-size="7.9" text-anchor="middle" fill="#3f9447" stroke="#3f9447" stroke-width="0.22" >65</text>
<text x="391.61" y="272.80" font-size="7.9" text-anchor="middle" fill="#3f9447" stroke="#3f9447" stroke-width="0.22" >62</text>
<text x="408.31" y="272.80" font-size="7.9" text-anchor="middle" fill="#3f9447" stroke="#3f9447" stroke-width="0.22" >61</text>
<text x="425.00" y="272.80" font-size="7.9" text-anchor="middle" fill="#3f9447" stroke="#3f9447" stroke-width="0.22" >52</text>
<text x="441.70" y="272.80" font-size="7.9" text-anchor="middle" fill="#3f9447" stroke="#3f9447" stroke-width="0.22" >41</text>
<text x="458.39" y="272.80" font-size="7.9" text-anchor="middle" fill="#3f9447" stroke="#3f9447" stroke-width="0.22" >29</text>
<text x="475.09" y="272.80" font-size="7.9" text-anchor="middle" fill="#3f9447" stroke="#3f9447" stroke-width="0.22" >21</text>
<text x="491.78" y="272.80" font-size="7.9" text-anchor="middle" fill="#3f9447" stroke="#3f9447" stroke-width="0.22" >6</text>
<text x="508.48" y="272.80" font-size="7.9" text-anchor="middle" fill="#3f9447" stroke="#3f9447" stroke-width="0.22" >0</text>
<text x="73.80" y="284.30" font-size="7.4" text-anchor="end" fill="#f0a848" stroke="#f0a848" stroke-width="0.22" >SD</text>
<text x="91.10" y="284.40" font-size="7.9" text-anchor="middle" fill="#f0a848" stroke="#f0a848" stroke-width="0.22" >40</text>
<text x="107.79" y="284.40" font-size="7.9" text-anchor="middle" fill="#f0a848" stroke="#f0a848" stroke-width="0.22" >39</text>
<text x="124.49" y="284.40" font-size="7.9" text-anchor="middle" fill="#f0a848" stroke="#f0a848" stroke-width="0.22" >39</text>
<text x="141.19" y="284.40" font-size="7.9" text-anchor="middle" fill="#f0a848" stroke="#f0a848" stroke-width="0.22" >38</text>
<text x="157.88" y="284.40" font-size="7.9" text-anchor="middle" fill="#f0a848" stroke="#f0a848" stroke-width="0.22" >37</text>
<text x="174.57" y="284.40" font-size="7.9" text-anchor="middle" fill="#f0a848" stroke="#f0a848" stroke-width="0.22" >36</text>
<text x="191.27" y="284.40" font-size="7.9" text-anchor="middle" fill="#f0a848" stroke="#f0a848" stroke-width="0.22" >35</text>
<text x="207.97" y="284.40" font-size="7.9" text-anchor="middle" fill="#f0a848" stroke="#f0a848" stroke-width="0.22" >34</text>
<text x="224.66" y="284.40" font-size="7.9" text-anchor="middle" fill="#f0a848" stroke="#f0a848" stroke-width="0.22" >34</text>
<text x="241.36" y="284.40" font-size="7.9" text-anchor="middle" fill="#f0a848" stroke="#f0a848" stroke-width="0.22" >32</text>
<text x="258.05" y="284.40" font-size="7.9" text-anchor="middle" fill="#f0a848" stroke="#f0a848" stroke-width="0.22" >30</text>
<text x="274.75" y="284.40" font-size="7.9" text-anchor="middle" fill="#f0a848" stroke="#f0a848" stroke-width="0.22" >30</text>
<text x="291.44" y="284.40" font-size="7.9" text-anchor="middle" fill="#f0a848" stroke="#f0a848" stroke-width="0.22" >29</text>
<text x="308.13" y="284.40" font-size="7.9" text-anchor="middle" fill="#f0a848" stroke="#f0a848" stroke-width="0.22" >26</text>
<text x="324.83" y="284.40" font-size="7.9" text-anchor="middle" fill="#f0a848" stroke="#f0a848" stroke-width="0.22" >24</text>
<text x="341.52" y="284.40" font-size="7.9" text-anchor="middle" fill="#f0a848" stroke="#f0a848" stroke-width="0.22" >24</text>
<text x="358.22" y="284.40" font-size="7.9" text-anchor="middle" fill="#f0a848" stroke="#f0a848" stroke-width="0.22" >23</text>
<text x="374.91" y="284.40" font-size="7.9" text-anchor="middle" fill="#f0a848" stroke="#f0a848" stroke-width="0.22" >22</text>
<text x="391.61" y="284.40" font-size="7.9" text-anchor="middle" fill="#f0a848" stroke="#f0a848" stroke-width="0.22" >21</text>
<text x="408.31" y="284.40" font-size="7.9" text-anchor="middle" fill="#f0a848" stroke="#f0a848" stroke-width="0.22" >20</text>
<text x="425.00" y="284.40" font-size="7.9" text-anchor="middle" fill="#f0a848" stroke="#f0a848" stroke-width="0.22" >17</text>
<text x="441.70" y="284.40" font-size="7.9" text-anchor="middle" fill="#f0a848" stroke="#f0a848" stroke-width="0.22" >15</text>
<text x="458.39" y="284.40" font-size="7.9" text-anchor="middle" fill="#f0a848" stroke="#f0a848" stroke-width="0.22" >13</text>
<text x="475.09" y="284.40" font-size="7.9" text-anchor="middle" fill="#f0a848" stroke="#f0a848" stroke-width="0.22" >10</text>
<text x="491.78" y="284.40" font-size="7.9" text-anchor="middle" fill="#f0a848" stroke="#f0a848" stroke-width="0.22" >3</text>
<text x="508.48" y="284.40" font-size="7.9" text-anchor="middle" fill="#f0a848" stroke="#f0a848" stroke-width="0.22" >0</text>
<text x="73.80" y="296.40" font-size="7.4" text-anchor="end" fill="#b8284c" stroke="#b8284c" stroke-width="0.22" >Progressive disease</text>
<text x="91.10" y="296.50" font-size="7.9" text-anchor="middle" fill="#b8284c" stroke="#b8284c" stroke-width="0.22" >26</text>
<text x="107.79" y="296.50" font-size="7.9" text-anchor="middle" fill="#b8284c" stroke="#b8284c" stroke-width="0.22" >24</text>
<text x="124.49" y="296.50" font-size="7.9" text-anchor="middle" fill="#b8284c" stroke="#b8284c" stroke-width="0.22" >20</text>
<text x="141.19" y="296.50" font-size="7.9" text-anchor="middle" fill="#b8284c" stroke="#b8284c" stroke-width="0.22" >18</text>
<text x="157.88" y="296.50" font-size="7.9" text-anchor="middle" fill="#b8284c" stroke="#b8284c" stroke-width="0.22" >16</text>
<text x="174.57" y="296.50" font-size="7.9" text-anchor="middle" fill="#b8284c" stroke="#b8284c" stroke-width="0.22" >14</text>
<text x="191.27" y="296.50" font-size="7.9" text-anchor="middle" fill="#b8284c" stroke="#b8284c" stroke-width="0.22" >13</text>
<text x="207.97" y="296.50" font-size="7.9" text-anchor="middle" fill="#b8284c" stroke="#b8284c" stroke-width="0.22" >12</text>
<text x="224.66" y="296.50" font-size="7.9" text-anchor="middle" fill="#b8284c" stroke="#b8284c" stroke-width="0.22" >12</text>
<text x="241.36" y="296.50" font-size="7.9" text-anchor="middle" fill="#b8284c" stroke="#b8284c" stroke-width="0.22" >10</text>
<text x="258.05" y="296.50" font-size="7.9" text-anchor="middle" fill="#b8284c" stroke="#b8284c" stroke-width="0.22" >9</text>
<text x="274.75" y="296.50" font-size="7.9" text-anchor="middle" fill="#b8284c" stroke="#b8284c" stroke-width="0.22" >9</text>
<text x="291.44" y="296.50" font-size="7.9" text-anchor="middle" fill="#b8284c" stroke="#b8284c" stroke-width="0.22" >9</text>
<text x="308.13" y="296.50" font-size="7.9" text-anchor="middle" fill="#b8284c" stroke="#b8284c" stroke-width="0.22" >0</text>
<text x="324.83" y="296.50" font-size="7.9" text-anchor="middle" fill="#b8284c" stroke="#b8284c" stroke-width="0.22" >7</text>
<text x="341.52" y="296.50" font-size="7.9" text-anchor="middle" fill="#b8284c" stroke="#b8284c" stroke-width="0.22" >7</text>
<text x="358.22" y="296.50" font-size="7.9" text-anchor="middle" fill="#b8284c" stroke="#b8284c" stroke-width="0.22" >7</text>
<text x="374.91" y="296.50" font-size="7.9" text-anchor="middle" fill="#b8284c" stroke="#b8284c" stroke-width="0.22" >7</text>
<text x="391.61" y="296.50" font-size="7.9" text-anchor="middle" fill="#b8284c" stroke="#b8284c" stroke-width="0.22" >7</text>
<text x="408.31" y="296.50" font-size="7.9" text-anchor="middle" fill="#b8284c" stroke="#b8284c" stroke-width="0.22" >7</text>
<text x="425.00" y="296.50" font-size="7.9" text-anchor="middle" fill="#b8284c" stroke="#b8284c" stroke-width="0.22" >5</text>
<text x="441.70" y="296.50" font-size="7.9" text-anchor="middle" fill="#b8284c" stroke="#b8284c" stroke-width="0.22" >5</text>
<text x="458.39" y="296.50" font-size="7.9" text-anchor="middle" fill="#b8284c" stroke="#b8284c" stroke-width="0.22" >3</text>
<text x="475.09" y="296.50" font-size="7.9" text-anchor="middle" fill="#b8284c" stroke="#b8284c" stroke-width="0.22" >2</text>
<text x="491.78" y="296.50" font-size="7.9" text-anchor="middle" fill="#b8284c" stroke="#b8284c" stroke-width="0.22" >2</text>
<text x="508.48" y="296.50" font-size="7.9" text-anchor="middle" fill="#b8284c" stroke="#b8284c" stroke-width="0.22" >0</text>
<rect x="0.5" y="0.5" width="519" height="304" fill="none" stroke="#444" stroke-width="1"/>
</svg></body></html>
